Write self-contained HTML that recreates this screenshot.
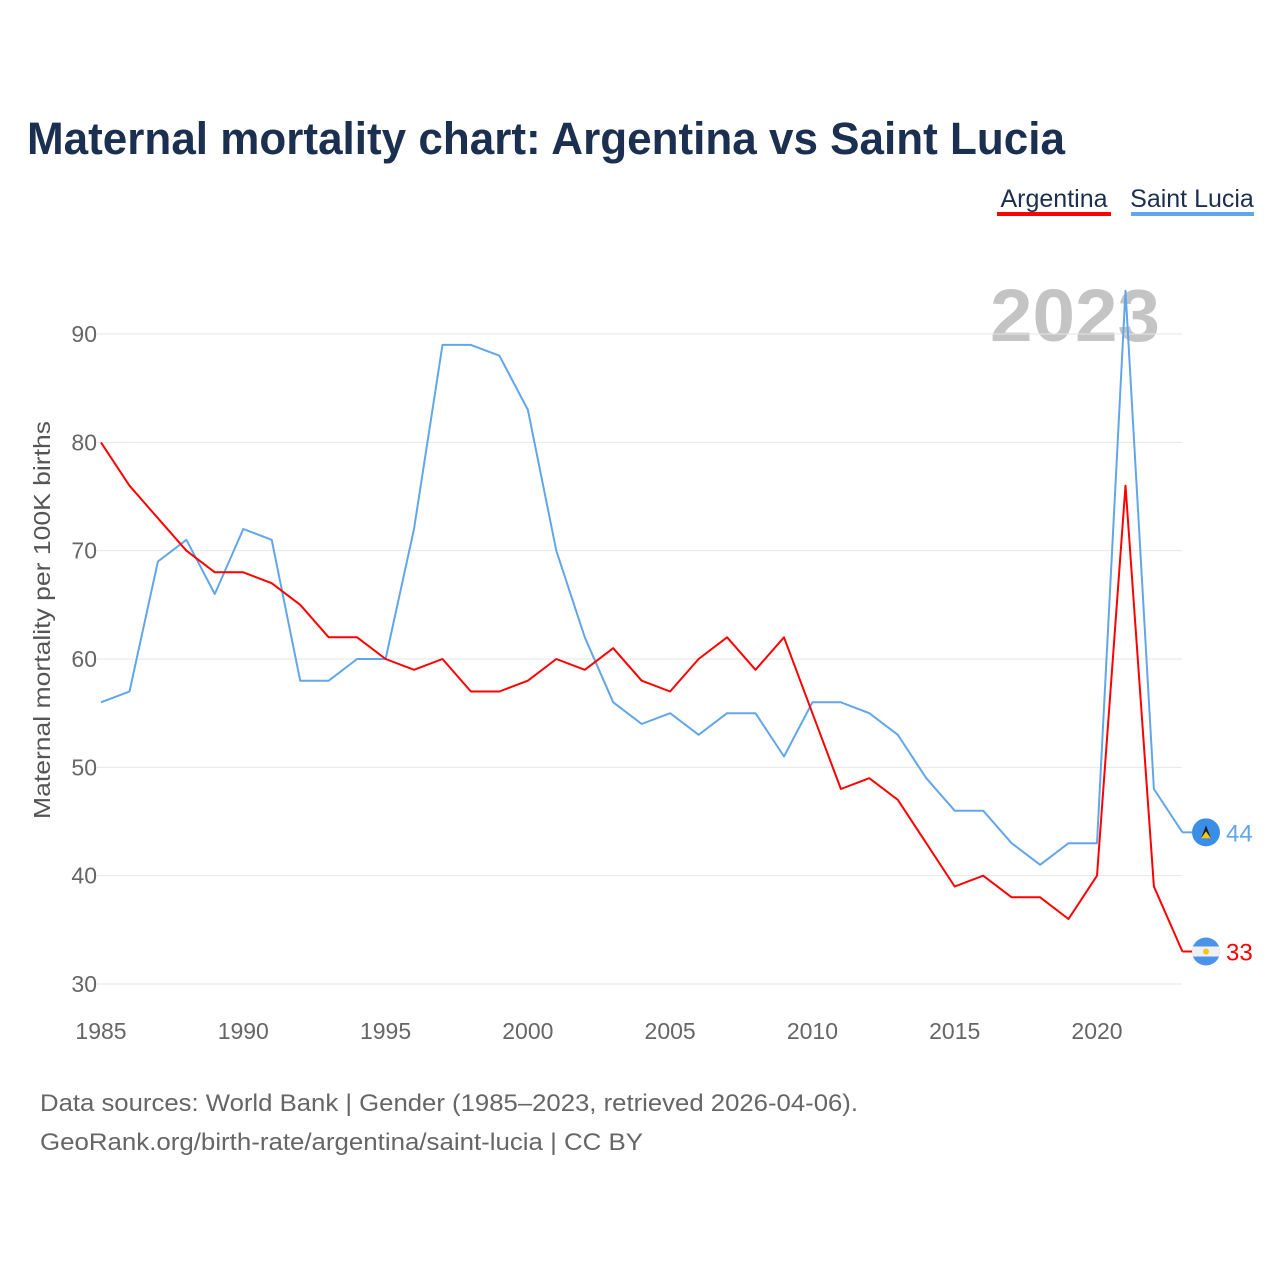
<!DOCTYPE html>
<html><head><meta charset="utf-8"><style>
body{margin:0;background:#fff;font-family:"Liberation Sans",sans-serif;}
</style></head><body>
<svg id="c" width="1280" height="1280" xmlns="http://www.w3.org/2000/svg">
<text x="27" y="154" font-size="45" font-weight="bold" fill="#1b3050" textLength="1038" lengthAdjust="spacingAndGlyphs">Maternal mortality chart: Argentina vs Saint Lucia</text>
<g><text x="1054" y="207" font-size="25" fill="#1b3050" text-anchor="middle">Argentina</text><rect x="997" y="212" width="114" height="4" fill="#ff0000"/></g>
<g><text x="1192" y="207" font-size="25" fill="#1b3050" text-anchor="middle">Saint Lucia</text><rect x="1131" y="212" width="123" height="4" fill="#62a6ea"/></g>
<text x="1160" y="341" font-size="74" font-weight="bold" fill="#c4c4c4" text-anchor="end" textLength="170" lengthAdjust="spacingAndGlyphs">2023</text>
<g id="grid"></g><g id="lines"></g><g id="ends"></g>
<text transform="translate(50,620) rotate(-90)" font-size="23" fill="#555" text-anchor="middle" textLength="398" lengthAdjust="spacingAndGlyphs">Maternal mortality per 100K births</text>
<text x="40" y="1111" font-size="24" fill="#666" textLength="818" lengthAdjust="spacingAndGlyphs">Data sources: World Bank | Gender (1985–2023, retrieved 2026-04-06).</text>
<text x="40" y="1150" font-size="24" fill="#666" textLength="603" lengthAdjust="spacingAndGlyphs">GeoRank.org/birth-rate/argentina/saint-lucia | CC BY</text>
</svg>
<script>
const years=[];for(let y=1985;y<=2023;y++)years.push(y);
const argentina=[80,76,73,70,68,68,67,65,62,62,60,59,60,57,57,58,60,59,61,58,57,60,62,59,62,55,48,49,47,43,39,40,38,38,36,40,76,39,33];
const saintLucia=[56,57,69,71,66,72,71,58,58,60,60,72,89,89,88,83,70,62,56,54,55,53,55,55,51,56,56,55,53,49,46,46,43,41,43,43,94,48,44];
const yTicks=[30,40,50,60,70,80,90];
const xTicks=[1985,1990,1995,2000,2005,2010,2015,2020];
const X=y=>101+(y-1985)*28.457;
const Y=v=>984-(v-30)*10.833;
const NS='http://www.w3.org/2000/svg';
function mk(t,a,p){const e=document.createElementNS(NS,t);for(const k in a)e.setAttribute(k,a[k]);p.appendChild(e);return e;}
const g=document.getElementById('grid');
yTicks.forEach(v=>{
 const l=mk('line',{x1:97,x2:1182,y1:Y(v),y2:Y(v),stroke:'#e6e6e6','stroke-width':1},g);
 
 
 const t=mk('text',{x:97,y:Y(v)+8,'font-size':23,fill:'#666','text-anchor':'end'},g);t.textContent=v;
 
 
});
xTicks.forEach(v=>{
 const t=mk('text',{x:X(v),y:1039,'font-size':23,fill:'#666','text-anchor':'middle'},g);t.textContent=v;
 
 
});
const L=document.getElementById('lines');
function line(d,c,n){const p=mk('path',{d:d.map((v,i)=>(i?'L':'M')+X(years[i]).toFixed(1)+','+Y(v).toFixed(1)).join(''),fill:'none',stroke:c,'stroke-width':2,'stroke-linejoin':'round'},L);
 
 }
line(saintLucia,'#62a6ea','saint-lucia-line');
line(argentina,'#ff0000','argentina-line');
const E=document.getElementById('ends');
function end(d,c,n,flag){
 const v=d[d.length-1],x=X(2023),y=Y(v);
 mk('line',{x1:x,x2:1195,y1:y,y2:y,stroke:c,'stroke-width':2},E);
 const fg=mk('g',{},E);
 
 
 if(flag==='lc'){mk('circle',{cx:1206,cy:y,r:14,fill:'#3b8ee8'},fg);mk('polygon',{points:`1206,${y-7} 1201,${y+6} 1211,${y+6}`,fill:'#222'},fg);mk('polygon',{points:`1206,${y-1} 1201,${y+6} 1211,${y+6}`,fill:'#f5c518'},fg);}
 else{mk('clipPath',{id:'cp'},fg);mk('circle',{cx:1206,cy:y,r:14},fg.lastChild);const gg=mk('g',{'clip-path':'url(#cp)'},fg);mk('rect',{x:1192,y:y-14,width:28,height:28,fill:'#4a93e8'},gg);mk('rect',{x:1192,y:y-5,width:28,height:10,fill:'#f0f0f0'},gg);mk('circle',{cx:1206,cy:y,r:3,fill:'#f5c518'},gg);}
 const t=mk('text',{x:1226,y:y+9,'font-size':24,fill:c},E);t.textContent=v;
 
 
}
end(saintLucia,'#62a6ea','saint-lucia','lc');
end(argentina,'#ff0000','argentina','ar');
</script>
</body></html>
